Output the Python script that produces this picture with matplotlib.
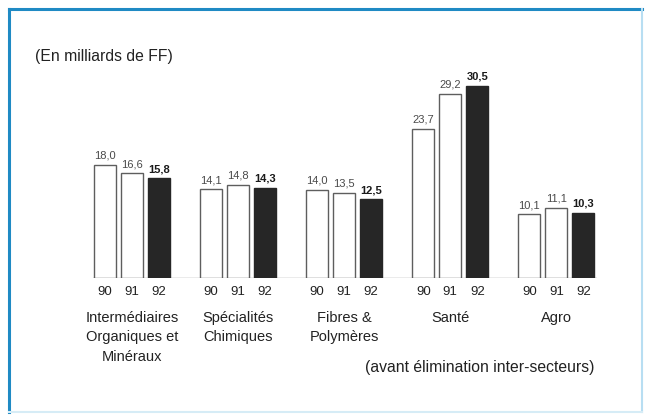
import matplotlib
matplotlib.use("Agg")
import matplotlib.pyplot as plt
from matplotlib.lines import Line2D
import numpy as np

plt.rcParams['font.family'] = ['Liberation Sans', 'DejaVu Sans']

# Chiffre d'affaires par secteur, en milliards de FF
categories = ["Intermédiaires\nOrganiques et\nMinéraux", "Spécialités\nChimiques",
              "Fibres &\nPolymères", "Santé", "Agro"]
years = ["90", "91", "92"]
values_90 = [18.0, 14.1, 14.0, 23.7, 10.1]
values_91 = [16.6, 14.8, 13.5, 29.2, 11.1]
values_92 = [15.8, 14.3, 12.5, 30.5, 10.3]

W, H = 646, 419
fig = plt.figure(figsize=(W / 100, H / 100), dpi=100)
fig.patch.set_facecolor("white")

# axes: baseline from x=93 to x=597 px, at y=278 px
ax_left, ax_right = 93, 597
ax_bottom, ax_top = 278, 60
ax = fig.add_axes([ax_left / W, 1 - ax_bottom / H,
                   (ax_right - ax_left) / W, (ax_bottom - ax_top) / H])
group_px = 106.1
ax.set_xlim((ax_left - 132) / group_px, (ax_right - 132) / group_px)
ax.set_ylim(0, (ax_bottom - ax_top) / 6.3)

x = np.arange(len(categories))
offset = 27 / group_px
width = 22 / group_px

series = [values_90, values_91, values_92]
for k, vals in enumerate(series):
    pos = x + (k - 1) * offset
    if k < 2:
        bars = ax.bar(pos, vals, width, color="white", edgecolor="#5e5e5e",
                      linewidth=1.0, zorder=2)
        weight = "normal"
        color = "#4a4a4a"
    else:
        bars = ax.bar(pos, vals, width, color="#262626", edgecolor="#262626",
                      linewidth=1.0, zorder=2)
        weight = "bold"
        color = "#1a1a1a"
    for b, v in zip(bars, vals):
        ax.annotate(f"{v:.1f}".replace(".", ","),
                    (b.get_x() + b.get_width() / 2, v),
                    xytext=(0, 3), textcoords="offset points",
                    ha="center", va="bottom", fontsize=8,
                    fontweight=weight, color=color)
    for p in pos:
        ax.text(p, -1.2, years[k], ha="center", va="top", fontsize=9.5,
                color="#222222")

for xi, cat in zip(x, categories):
    ax.text(xi, -5.2, cat, ha="center", va="top", fontsize=10.5,
            color="#222222", linespacing=1.5)

ax.axhline(0, color="#9a9a9a", linewidth=1.0, zorder=1)
for s in ax.spines.values():
    s.set_visible(False)
ax.set_xticks([])
ax.set_yticks([])
ax.patch.set_alpha(0)

fig.text(35 / W, 1 - 57 / H, "(En milliards de FF)", ha="left", va="center",
         fontsize=11.3, color="#222222")
fig.text(594 / W, 1 - 367 / H, "(avant élimination inter-secteurs)",
         ha="right", va="center", fontsize=11.3, color="#222222")

# cadre bleu
fx = lambda px: px / W
fy = lambda py: 1 - py / H
fig.add_artist(Line2D([fx(9), fx(642)], [fy(9), fy(9)], color="#1f8ac4",
                      linewidth=2.2))
fig.add_artist(Line2D([fx(9), fx(9)], [fy(9), fy(412)], color="#1f8ac4",
                      linewidth=2.2))
fig.add_artist(Line2D([fx(642), fx(642)], [fy(9), fy(412)], color="#b8def2",
                      linewidth=1.5))
fig.add_artist(Line2D([fx(9), fx(642)], [fy(412), fy(412)], color="#d6ecf6",
                      linewidth=1.5))

fig.savefig("out.png", dpi=100, facecolor="white")
